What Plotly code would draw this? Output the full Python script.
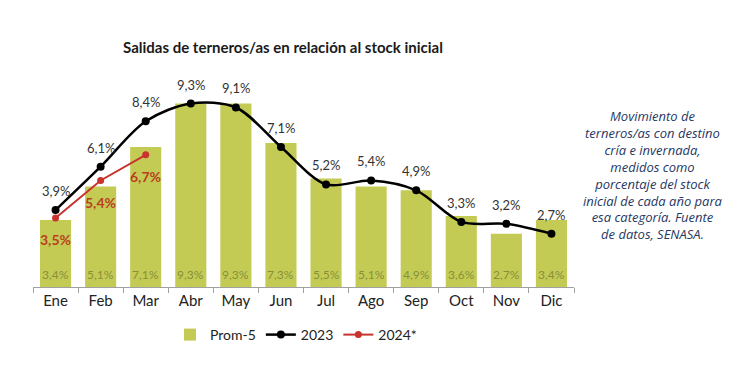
import plotly.graph_objects as go

meses = ["Ene", "Feb", "Mar", "Abr", "May", "Jun", "Jul", "Ago", "Sep", "Oct", "Nov", "Dic"]
prom5 = [3.4, 5.1, 7.1, 9.3, 9.3, 7.3, 5.5, 5.1, 4.9, 3.6, 2.7, 3.4]
y2023 = [3.9, 6.1, 8.4, 9.3, 9.1, 7.1, 5.2, 5.4, 4.9, 3.3, 3.2, 2.7]
y2024 = [3.5, 5.4, 6.7]
meses2024 = meses[:3]
nota = ["Movimiento de", "terneros/as con destino", "cría e invernada,", "medidos como",
        "porcentaje del stock", "inicial de cada año para", "esa categoría. Fuente",
        "de datos, SENASA."]

def fmt(v):
    return f"{v:.1f}%".replace(".", ",")

FONT = "Lato"
OFF = 8  # page body margin
W, H = 751 - OFF, 374 - OFF
L, R, T, B = 33 - OFF, W - (574 - OFF), 70 - OFF, H - (287 - OFF)
PW, PH = W - L - R, H - T - B

def px_x(x):
    return (x - OFF - L) / PW

def px_y(y):
    return 1 - (y - OFF - T) / PH

fig = go.Figure()
fig.add_trace(go.Bar(
    x=meses, y=prom5, name="Prom-5",
    marker=dict(color="#C4CB55", line=dict(width=0)),
    hoverinfo="skip",
))
fig.add_trace(go.Scatter(
    x=meses, y=y2023, name="2023", mode="lines+markers",
    line=dict(color="black", width=2.5, shape="spline", smoothing=0.9),
    marker=dict(color="black", size=8),
    cliponaxis=False,
))
fig.add_trace(go.Scatter(
    x=meses2024, y=y2024, name="2024*", mode="lines+markers",
    line=dict(color="#C8332E", width=2),
    marker=dict(color="#C8332E", size=7),
    cliponaxis=False,
))

for m, v in zip(meses, prom5):
    fig.add_annotation(x=m, y=0, text=fmt(v), showarrow=False, yanchor="middle",
                       yshift=13, font=dict(size=12, color="#879038", family=FONT))
for m, v in zip(meses, y2023):
    fig.add_annotation(x=m, y=v, text=fmt(v), showarrow=False, yanchor="middle",
                       yshift=19, font=dict(size=13, color="#333333", family=FONT))
for m, v in zip(meses2024, y2024):
    fig.add_annotation(x=m, y=v, text=f"<b>{fmt(v)}</b>", showarrow=False, yanchor="middle",
                       yshift=-22, font=dict(size=14, color="#B8401F", family=FONT))

fig.update_layout(
    width=W, height=H,
    margin=dict(l=L, r=R, t=T, b=B, autoexpand=False),
    paper_bgcolor="white", plot_bgcolor="white",
    bargap=0.31,
    title=dict(text="<b>Salidas de terneros/as en relación al stock inicial</b>",
               x=(283 - OFF) / W, xanchor="center", y=1 - (48 - OFF) / H, yanchor="middle",
               font=dict(size=15, color="#1a1a1a", family=FONT)),
    xaxis=dict(range=[-0.5, 11.5], autorange=False,
               showline=True, linecolor="#a0a0a0", linewidth=1,
               ticks="outside", tickson="boundaries", ticklen=5, tickcolor="#a0a0a0",
               tickfont=dict(size=15, color="#222222", family=FONT), showgrid=False),
    yaxis=dict(range=[0, 11], visible=False, showgrid=False, zeroline=False),
    legend=dict(orientation="h", x=px_x(296), xref="paper", xanchor="center",
                y=px_y(335), yanchor="middle", tracegroupgap=0, itemwidth=30,
                font=dict(size=14, color="#222222", family=FONT)),
    showlegend=True,
)

fig.add_annotation(
    text="<i>" + "<br>".join(nota) + "</i>", xref="paper", yref="paper",
    x=px_x(653), y=px_y(175), xanchor="center", yanchor="middle",
    showarrow=False, align="center",
    font=dict(size=13, color="#1F3864", family="Open Sans"),
)

fig.write_html("out.html")
